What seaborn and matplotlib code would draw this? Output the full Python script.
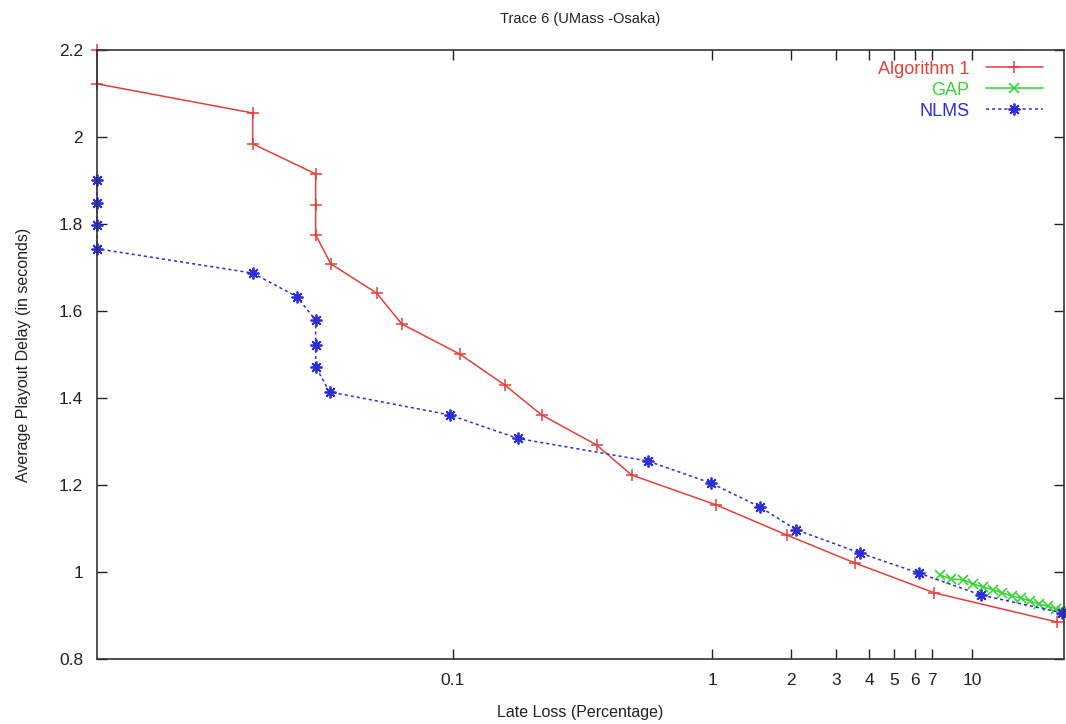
import matplotlib
matplotlib.use("Agg")
import matplotlib.pyplot as plt
import seaborn as sns
import pandas as pd

# ---- data ----
alg1_x = [0.00428, 0.00428, 0.0170, 0.0170, 0.0297, 0.0297, 0.0297, 0.0340, 0.0510, 0.0637,
          0.1064, 0.1585, 0.220, 0.358, 0.488, 1.035, 1.93, 3.52, 7.14, 21.2]
alg1_y = [2.200, 2.122, 2.055, 1.984, 1.915, 1.844, 1.775, 1.708, 1.641, 1.570,
          1.501, 1.430, 1.361, 1.292, 1.223, 1.154, 1.085, 1.021, 0.952, 0.885]

gap_x = [7.5, 8.3, 9.2, 10.1, 11.0, 12.0, 13.0, 14.2, 15.4, 16.7, 18.0, 19.5, 21.0, 22.2]
gap_y = [0.993, 0.984, 0.982, 0.972, 0.966, 0.959, 0.952, 0.945, 0.940, 0.933, 0.926, 0.922, 0.915, 0.910]

nlms_x = [0.00428, 0.00428, 0.00428, 0.00428, 0.0170, 0.0251, 0.0297, 0.0297, 0.0297, 0.0336,
          0.0974, 0.178, 0.564, 0.989, 1.517, 2.10, 3.68, 6.25, 10.8, 22.2]
nlms_y = [1.901, 1.848, 1.798, 1.743, 1.687, 1.633, 1.579, 1.522, 1.472, 1.414,
          1.361, 1.307, 1.255, 1.204, 1.150, 1.097, 1.044, 0.997, 0.947, 0.906]

x_ticks = [0.1, 1, 2, 3, 4, 5, 6, 7, 10]
x_tick_labels = ["0.1", "1", "2", "3", "4", "5", "6", "7", "10"]
y_ticks = [0.8, 1.0, 1.2, 1.4, 1.6, 1.8, 2.0, 2.2]
y_tick_labels = ["0.8", "1", "1.2", "1.4", "1.6", "1.8", "2", "2.2"]

title = "Trace 6 (UMass -Osaka)"
xlabel = "Late Loss (Percentage)"
ylabel = "Average Playout Delay (in seconds)"

# ---- style ----
sns.set_style("ticks")
plt.rcParams["font.family"] = ["Liberation Sans", "DejaVu Sans"]

RED = "#e53f3b"
GREEN = "#33d633"
BLUE = "#2c2cd8"

fig = plt.figure(figsize=(10.66, 7.24), dpi=100)
ax = fig.add_axes([0.091, 0.0898, 0.907, 0.8413])

common = dict(ax=ax, sort=False, estimator=None, linewidth=1.1, clip_on=False)
sns.lineplot(x=alg1_x, y=alg1_y, color=RED, marker="+", markersize=8.5,
             markeredgewidth=1.1, markeredgecolor=RED, markerfacecolor=RED,
             label="Algorithm 1", **common)
sns.lineplot(x=gap_x, y=gap_y, color=GREEN, marker="x", markersize=6.5,
             markeredgewidth=1.2, markeredgecolor=GREEN, markerfacecolor=GREEN,
             label="GAP", **common)
sns.lineplot(x=nlms_x, y=nlms_y, color=BLUE, linestyle=(0, (2, 2)),
             marker=(8, 2, 0), markersize=8.5, markeredgewidth=1.3,
             markeredgecolor=BLUE, markerfacecolor=BLUE, label="NLMS", **common)

ax.set_xscale("log")
ax.set_xlim(0.00428, 22.5)
ax.set_ylim(0.8, 2.2)

ax.set_xticks(x_ticks)
ax.set_xticklabels(x_tick_labels)
ax.xaxis.set_minor_locator(matplotlib.ticker.NullLocator())
ax.set_yticks(y_ticks)
ax.set_yticklabels(y_tick_labels)

ax.tick_params(axis="both", which="major", direction="in", length=7, width=1.0,
               top=True, right=True, labelsize=12.5, colors="#222222", pad=10)
for s in ax.spines.values():
    s.set_linewidth(1.2)
    s.set_color("#333333")

ax.set_title(title, fontsize=10.5, color="#222222", pad=19)
ax.set_xlabel(xlabel, fontsize=11.5, color="#222222", labelpad=12)
ax.set_ylabel(ylabel, fontsize=11.5, color="#222222", labelpad=20)

leg = ax.legend(loc="upper right", frameon=False, markerfirst=False,
                labelcolor="linecolor", fontsize=13, handlelength=3.2,
                handletextpad=0.9, labelspacing=0.22, borderaxespad=0.2,
                bbox_to_anchor=(0.99, 1.0))
for t in leg.get_texts():
    t.set_ha("right")

fig.savefig("out.png", dpi=100)
